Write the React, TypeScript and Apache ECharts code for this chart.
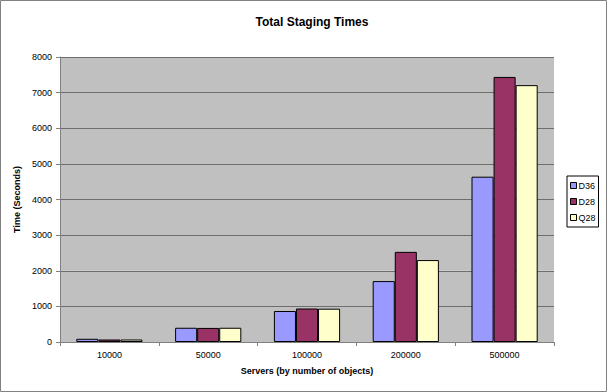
import React, { useEffect, useRef } from "react";
import * as echarts from "echarts";

const categories = ["10000", "50000", "100000", "200000", "500000"];
const d36 = [90, 400, 870, 1710, 4640];
const d28 = [70, 395, 940, 2530, 7440];
const q28 = [70, 400, 935, 2300, 7210];
const seriesNames = ["D36", "D28", "Q28"];
const colors = ["#9999ff", "#993366", "#ffffcc"];

export default function App() {
  const ref = useRef<HTMLDivElement>(null);
  useEffect(() => {
    document.body.style.margin = "0";
    const chart = echarts.init(ref.current!, null, { renderer: "svg" });
    const font = "Liberation Sans";
    const datas = [d36, d28, q28];
    chart.setOption({
      animation: false,
      backgroundColor: "#ffffff",
      textStyle: { fontFamily: font },
      title: {
        text: "Total Staging Times",
        left: 307,
        textAlign: "center",
        top: 11,
        textStyle: { fontSize: 12, fontWeight: "bold", color: "#000", fontFamily: font },
      },
      grid: { left: 60, right: 53, top: 57, bottom: 50, containLabel: false },
      legend: {
        orient: "vertical",
        left: 567,
        top: 176,
        itemWidth: 6,
        itemHeight: 6,
        itemGap: 7,
        padding: [5, 3, 5, 3],
        borderColor: "#000",
        borderWidth: 1,
        icon: "rect",
        textStyle: { fontSize: 9, color: "#000", padding: [0, 0, 0, -3] },
        data: seriesNames.map((n) => ({ name: n, itemStyle: { borderColor: "#000", borderWidth: 1 } })),
      },
      xAxis: {
        type: "category",
        data: categories,
        name: "Servers (by number of objects)",
        nameLocation: "middle",
        nameGap: 24,
        nameTextStyle: { fontSize: 9, fontWeight: "bold", color: "#000" },
        axisLine: { lineStyle: { color: "#808080", width: 1 } },
        axisTick: { show: true, inside: false, length: 4, lineStyle: { color: "#808080" } },
        axisLabel: { fontSize: 9, color: "#000", margin: 8 },
        splitLine: { show: false },
      },
      yAxis: {
        type: "value",
        min: 0,
        max: 8000,
        interval: 1000,
        name: "Time (Seconds)",
        nameLocation: "middle",
        nameGap: 36,
        nameTextStyle: { fontSize: 9, fontWeight: "bold", color: "#000" },
        axisLine: { show: true, lineStyle: { color: "#808080", width: 1 } },
        axisTick: { show: true, inside: false, length: 4, lineStyle: { color: "#808080" } },
        axisLabel: { fontSize: 9, color: "#000", margin: 8, formatter: (v: number) => String(v) },
        splitLine: { show: true, lineStyle: { color: "#6e6e6e", width: 1 } },
        splitArea: { show: true, areaStyle: { color: ["#c0c0c0", "#c0c0c0"] } },
      },
      series: seriesNames.map((n, i) => ({
        name: n,
        type: "bar",
        data: datas[i],
        barGap: "0%",
        barCategoryGap: "33%",
        itemStyle: { color: colors[i], borderColor: "#000", borderWidth: 1 },
      })),
      graphic: [
        {
          type: "rect",
          shape: { x: 0.5, y: 0.5, width: 606, height: 391 },
          style: { fill: "none", stroke: "#808080", lineWidth: 1 },
          silent: true,
        },
      ],
    });
    return () => chart.dispose();
  }, []);
  return <div ref={ref} style={{ width: 607, height: 392 }} />;
}
